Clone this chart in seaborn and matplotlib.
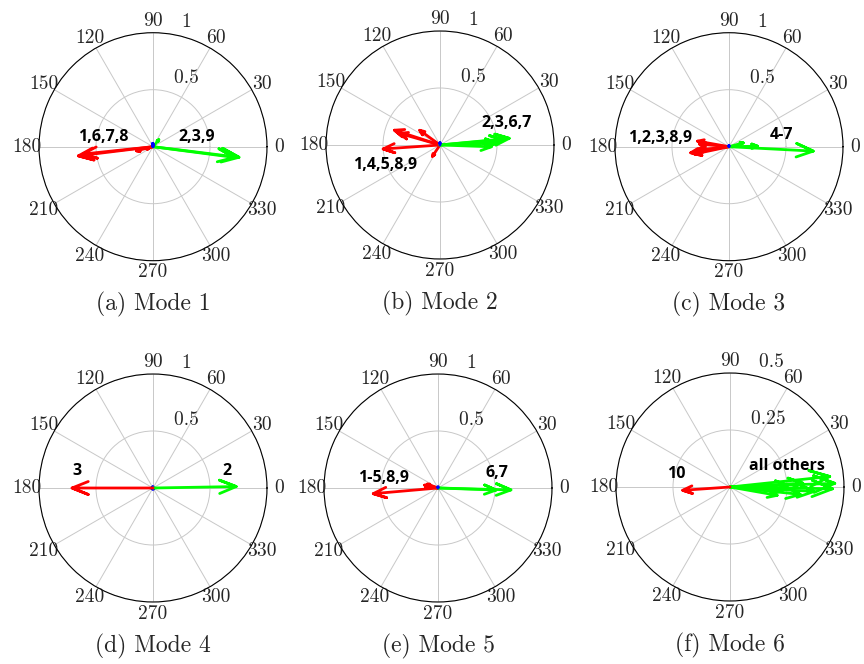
import numpy as np
import pandas as pd
import matplotlib
matplotlib.use("Agg")
import matplotlib.pyplot as plt
import seaborn as sns

sns.set_theme(style="white")
plt.rcParams["font.family"] = ["cmr10", "DejaVu Serif"]
plt.rcParams["axes.unicode_minus"] = False

# ---- mode-shape data: magnitude and angle (deg) of generators 1..10 ----
captions = ["(a) Mode 1", "(b) Mode 2", "(c) Mode 3",
            "(d) Mode 4", "(e) Mode 5", "(f) Mode 6"]
r_max = [1.0, 1.0, 1.0, 1.0, 1.0, 0.5]

mag_1 = [0.66, 0.76, 0.08, 0.03, 0.02, 0.62, 0.15, 0.06, 0.72, 0.01]
ang_1 = [187, 353, 50, 95, 80, 186, 194, 200, 352.5, 100]
grp_1 = ["r", "g", "g", "b", "b", "r", "r", "r", "g", "b"]

mag_2 = [0.50, 0.61, 0.55, 0.42, 0.37, 0.50, 0.45, 0.22, 0.12, 0.02]
ang_2 = [184, 5.5, 5, 162, 164, 2, -2, 144, 236, 90]
grp_2 = ["r", "g", "g", "r", "r", "g", "g", "r", "r", "b"]

mag_3 = [0.28, 0.26, 0.34, 0.74, 0.25, 0.13, 0.08, 0.31, 0.29, 0.01]
ang_3 = [170, 175, 189, -3, 1, 15, 5, 192, 186, 90]
grp_3 = ["r", "r", "r", "g", "g", "g", "g", "r", "r", "b"]

mag_4 = [0.01, 0.73, 0.71, 0.01, 0.01, 0.01, 0.01, 0.01, 0.01, 0.01]
ang_4 = [200, 1, 180, 220, 250, 300, 330, 160, 120, 90]
grp_4 = ["b", "g", "r", "b", "b", "b", "b", "b", "b", "b"]

mag_5 = [0.57, 0.12, 0.10, 0.09, 0.11, 0.64, 0.51, 0.08, 0.10, 0.01]
ang_5 = [185, 168, 172, 165, 175, -1.5, -2, 170, 160, 90]
grp_5 = ["r", "r", "r", "r", "r", "g", "g", "r", "r", "b"]

mag_6 = [0.46, 0.45, 0.44, 0.37, 0.32, 0.31, 0.25, 0.23, 0.21, 0.208]
ang_6 = [2, -1, 6, -3, 3, -6, 2, -4, -10, 184]
grp_6 = ["g", "g", "g", "g", "g", "g", "g", "g", "g", "r"]

mags = [mag_1, mag_2, mag_3, mag_4, mag_5, mag_6]
angs = [ang_1, ang_2, ang_3, ang_4, ang_5, ang_6]
grps = [grp_1, grp_2, grp_3, grp_4, grp_5, grp_6]

group_labels = [
    [("1,6,7,8", 0.282, 0.541), ("2,3,9", 0.692, 0.541)],
    [("2,3,6,7", 0.793, 0.595), ("1,4,5,8,9", 0.259, 0.412)],
    [("1,2,3,8,9", 0.197, 0.537), ("4-7", 0.731, 0.551)],
    [("3", 0.168, 0.576), ("2", 0.823, 0.576)],
    [("1-5,8,9", 0.260, 0.543), ("6,7", 0.757, 0.567)],
    [("10", 0.266, 0.557), ("all others", 0.749, 0.592)],
]

palette = {"r": "#ff0000", "g": "#00ff00", "b": "#0000ff"}

# compass-style arrow: shaft plus open chevron head (20% long, 8% half-width)
head = np.array([0, 1, 0.8 + 0.08j, 1, 0.8 - 0.08j])


def arrow_frame(mag, ang, grp):
    rows = []
    for k, (m, a, g) in enumerate(zip(mag, ang, grp)):
        z = m * np.exp(1j * np.deg2rad(a))
        pts = head * z
        for order, p in enumerate(pts):
            th = np.angle(p) if abs(p) > 0 else np.deg2rad(a)
            rows.append({"theta": th, "r": abs(p), "vec": k + 1,
                         "group": g, "order": order})
    return pd.DataFrame(rows)


fig = plt.figure(figsize=(8.64, 6.64), dpi=100)
fig.patch.set_facecolor("white")

W = 228 / 864
H = 228 / 664
centers = [(153, 146.7), (440, 145), (729, 146.7),
           (153, 488), (438, 488), (730, 487)]

for i in range(6):
    cx, cy = centers[i]
    ax = fig.add_axes([(cx - 114) / 864, 1 - (cy + 114) / 664, W, H],
                      projection="polar")
    rm = r_max[i]
    df = arrow_frame(mags[i], angs[i], grps[i])
    sns.lineplot(data=df, x="theta", y="r", units="vec", estimator=None,
                 sort=False, hue="group", palette=palette, legend=False,
                 lw=2, ax=ax)
    ax.set_xlabel("")
    ax.set_ylabel("")
    ax.set_ylim(0, rm)
    ax.set_yticks([rm / 2, rm])
    ax.set_yticklabels([])
    ax.set_thetagrids(np.arange(0, 360, 30),
                      labels=[str(a) for a in range(0, 360, 30)])
    ax.tick_params(axis="x", pad=-4.5, labelsize=14)
    ax.grid(True, color="#c8c8c8", lw=0.7)
    ax.spines["polar"].set_color("black")
    ax.spines["polar"].set_linewidth(0.8)
    ax.set_facecolor("white")

    rinc = rm / 2
    for rv in (rm / 2, rm):
        lab = f"{rv:g}"
        ax.text(np.deg2rad(82), rv + rinc / 20, "  " + lab, ha="left",
                va="bottom", fontsize=14)

    for txt, tx, ty in group_labels[i]:
        ax.text(tx, ty, txt, transform=ax.transAxes, ha="center",
                va="center", fontsize=11.5, fontweight="bold",
                family=["Open Sans", "DejaVu Sans"], color="black")

    fig.text(cx / 864, 1 - (cy + 158) / 664, captions[i], ha="center",
             va="center", fontsize=17)

fig.savefig("out.png", dpi=100, facecolor="white")
